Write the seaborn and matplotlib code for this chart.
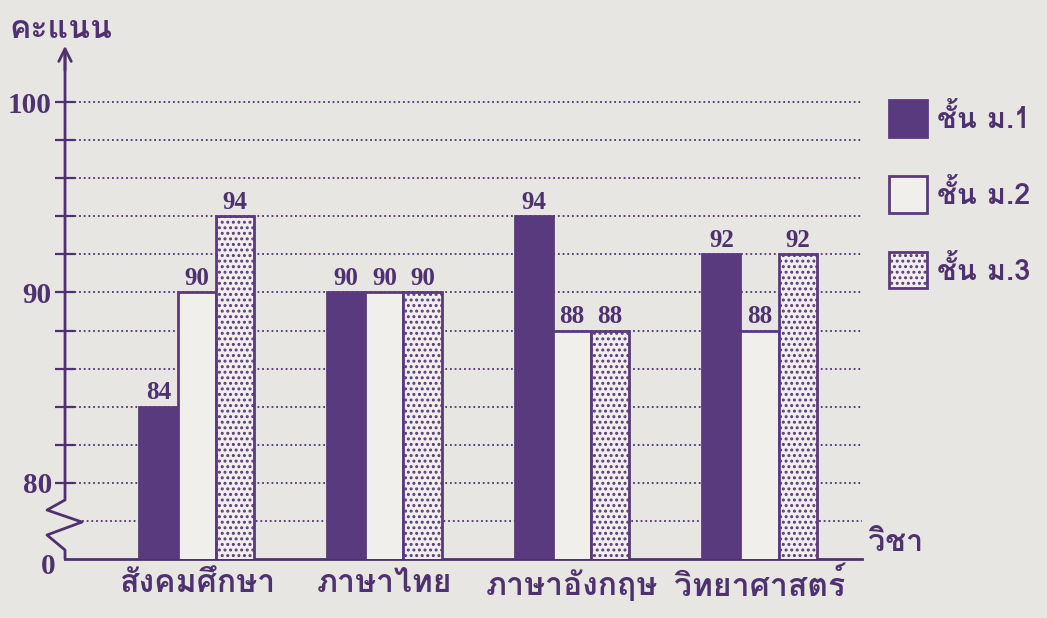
import pandas as pd
import matplotlib
matplotlib.use("Agg")
import matplotlib.pyplot as plt
import seaborn as sns
from matplotlib.patches import Patch

subjects = ["สังคมศึกษา", "ภาษาไทย", "ภาษาอังกฤษ", "วิทยาศาสตร์"]
grades = ["ชั้น ม.1", "ชั้น ม.2", "ชั้น ม.3"]
m1_scores = [84, 90, 94, 92]
m2_scores = [90, 90, 88, 88]
m3_scores = [94, 90, 88, 92]

purple = "#5a3a7e"
text_purple = "#4e3270"
paper = "#e8e6e2"
light = "#f1efec"

sns.set_style("white")
# Loma has the Thai glyphs
plt.rcParams["font.family"] = ["Loma", "DejaVu Sans"]
plt.rcParams["hatch.linewidth"] = 1.4

df = pd.DataFrame({
    "subject": subjects * 3,
    "grade": [grades[0]] * 4 + [grades[1]] * 4 + [grades[2]] * 4,
    "score": m1_scores + m2_scores + m3_scores,
})

fig = plt.figure(figsize=(10.47, 6.18), dpi=100, facecolor=paper)
ax = fig.add_axes([0.0621, 0.0955, 0.761, 0.8318])
ax.set_facecolor(paper)

sns.barplot(data=df, x="subject", y="score", hue="grade", order=subjects,
            hue_order=grades, width=0.61, saturation=1, legend=False,
            palette=[purple, light, light], ax=ax, zorder=3)

hatches = [None, None, "..."]
for cont, h in zip(ax.containers, hatches):
    for bar in cont:
        bar.set_edgecolor(purple)
        bar.set_linewidth(2)
        if h:
            bar.set_hatch(h)
    ax.bar_label(cont, padding=2, fontsize=18, fontweight="bold",
                 family="Liberation Serif", color=text_purple)

ax.set_xlim(-0.702, 3.545)
ax.set_ylim(76, 103)

# dotted grid
for g in range(78, 101, 2):
    ax.axhline(g, xmin=0.0213 if g == 78 else 0, xmax=1, color=text_purple,
               lw=1.3, ls=(0, (1, 1.6)), zorder=1)

# axis lines with break
for s in ["left", "top", "right"]:
    ax.spines[s].set_visible(False)
ax.spines["bottom"].set_color(text_purple)
ax.spines["bottom"].set_linewidth(2)
ytr = ax.get_yaxis_transform()
ax.plot([0, 0, -0.0226, 0.0213, -0.0226, 0, 0],
        [76, 76.47, 77.26, 77.94, 78.57, 79.1, 102.5],
        transform=ytr, color=text_purple, lw=2, clip_on=False, zorder=4)
ax.annotate("", xy=(0, 103.1), xytext=(0, 101.5), xycoords=ytr,
            arrowprops=dict(arrowstyle="->,head_length=0.9,head_width=0.45",
                            color=text_purple, lw=2))

ax.set_yticks([80, 90, 100])
ax.set_yticks(range(82, 100, 2), minor=True)
ax.set_yticklabels(["80", "90", "100"], family="Liberation Serif",
                   fontweight="bold", fontsize=21, color=text_purple)
ax.tick_params(axis="y", which="both", direction="inout", length=15,
               width=1.6, color=text_purple, left=True, pad=2)
ax.text(-0.012, 75.6, "0", transform=ytr, ha="right", va="center",
        family="Liberation Serif", fontweight="bold", fontsize=21,
        color=text_purple)

ax.tick_params(axis="x", length=0, pad=7)
ax.set_xticklabels(subjects, fontsize=23, fontweight="bold", color=text_purple)
ax.set_xlabel("")
ax.set_ylabel("")

ax.text(1.008, 0.003, "วิชา", transform=ax.transAxes, ha="left", va="bottom",
        fontsize=22, fontweight="bold", color=text_purple)
fig.text(0.009, 0.952, "คะแนน", ha="left", va="center", fontsize=23,
         fontweight="bold", color=text_purple)

handles = [Patch(facecolor=purple, edgecolor=purple, lw=2),
           Patch(facecolor=light, edgecolor=purple, lw=2),
           Patch(facecolor=light, edgecolor=purple, lw=2, hatch="...")]
leg = fig.legend(handles, grades, loc="upper left", bbox_to_anchor=(0.849, 0.838),
                 frameon=False, handlelength=1.3, handleheight=1.55,
                 labelspacing=1.35, handletextpad=0.35, borderpad=0,
                 borderaxespad=0, prop=dict(size=21, weight="bold"))
for t in leg.get_texts():
    t.set_color(text_purple)

fig.savefig("out.png", dpi=100, facecolor=paper)
